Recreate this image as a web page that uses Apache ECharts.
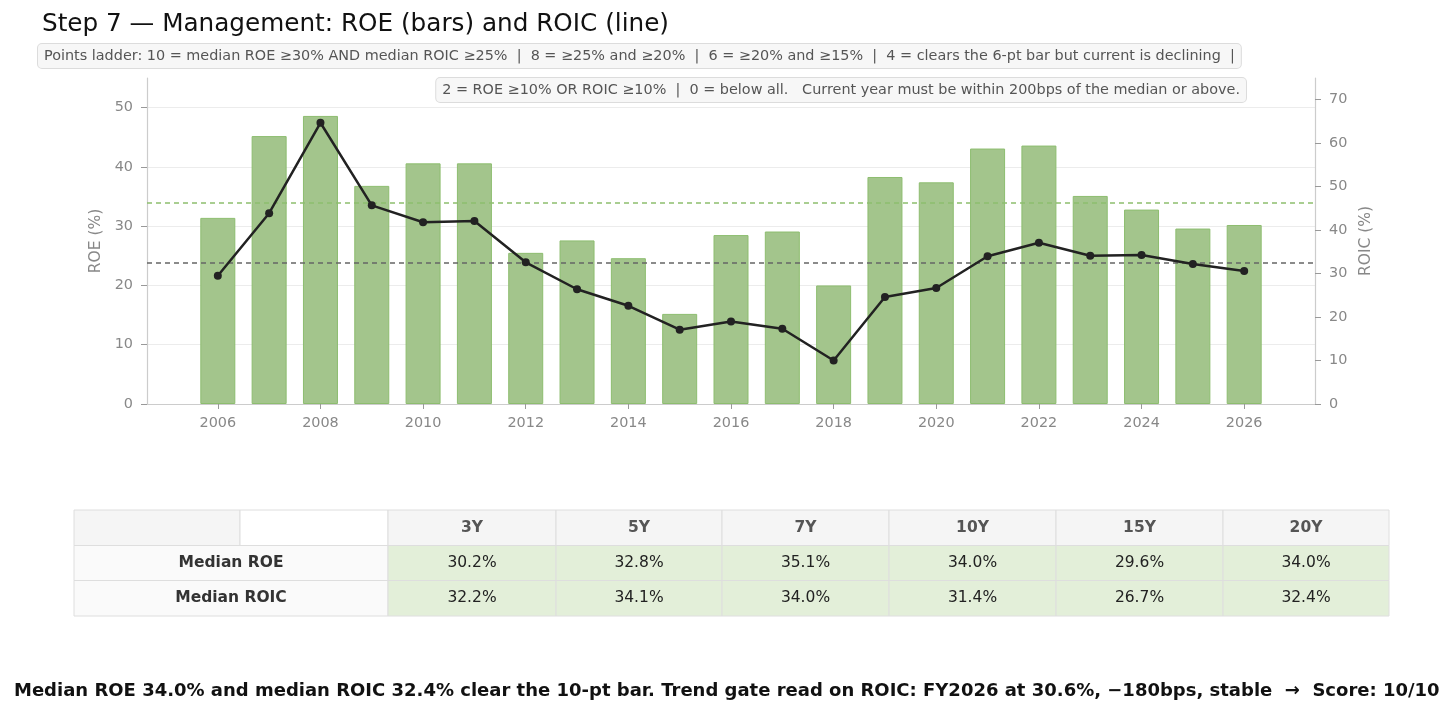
<!DOCTYPE html>
<html>
<head>
<meta charset="utf-8">
<script src="https://cdn.jsdelivr.net/npm/echarts@6/dist/echarts.min.js"></script>
<style>
  html, body { margin: 0; padding: 0; background: #fff; }
  #chart { width: 1456px; height: 716px; }
</style>
</head>
<body>
<div id="chart"></div>
<script>
// fiscal years
const years = [2006, 2007, 2008, 2009, 2010, 2011, 2012, 2013, 2014, 2015, 2016,
  2017, 2018, 2019, 2020, 2021, 2022, 2023, 2024, 2025, 2026];
// ROE % (bars, left axis)
const roe = [31.4, 45.2, 48.6, 36.8, 40.6, 40.6, 25.5, 27.6, 24.6, 15.2, 28.5,
  29.1, 20.0, 38.3, 37.4, 43.1, 43.6, 35.1, 32.8, 29.6, 30.2];
// ROIC % (line, right axis)
const roic = [29.5, 43.9, 64.7, 45.7, 41.8, 42.1, 32.6, 26.4, 22.6, 17.1, 19.0,
  17.3, 10.0, 24.6, 26.7, 34.0, 37.1, 34.1, 34.3, 32.2, 30.6];
const yearTicks = [2006, 2008, 2010, 2012, 2014, 2016, 2018, 2020, 2022, 2024, 2026];

// median table
const windows = ['3Y', '5Y', '7Y', '10Y', '15Y', '20Y'];
const medRoe = [30.2, 32.8, 35.1, 34.0, 29.6, 34.0];
const medRoic = [32.2, 34.1, 34.0, 31.4, 26.7, 32.4];

const FONT = '"DejaVu Sans", "Noto Sans", sans-serif';
const chart = echarts.init(document.getElementById('chart'));

// table built as graphic elements
const tbl = [];
const colEdges = [74, 388, 556, 722, 889, 1056, 1223, 1389];
const rowEdges = [510, 545.5, 580.5, 616];
function cell(x0, x1, y0, y1, fill, text, weight, color) {
  tbl.push({
    type: 'rect', shape: { x: x0, y: y0, width: x1 - x0, height: y1 - y0 },
    style: { fill: fill, stroke: '#dedede', lineWidth: 1 }
  });
  if (text !== '') {
    tbl.push({
      type: 'text', x: (x0 + x1) / 2, y: (y0 + y1) / 2,
      style: { text: text, fill: color, font: weight + ' 15.5px ' + FONT,
        align: 'center', verticalAlign: 'middle' }
    });
  }
}
// header row (first cell is split like the original)
cell(74, 240, rowEdges[0], rowEdges[1], '#f5f5f5', '', 'normal', '#555');
cell(240, 388, rowEdges[0], rowEdges[1], '#ffffff', '', 'normal', '#555');
windows.forEach((w, i) => cell(colEdges[i + 1], colEdges[i + 2], rowEdges[0], rowEdges[1], '#f5f5f5', w, 'bold', '#555'));
[['Median ROE', medRoe], ['Median ROIC', medRoic]].forEach((r, j) => {
  cell(colEdges[0], colEdges[1], rowEdges[j + 1], rowEdges[j + 2], '#fafafa', r[0], 'bold', '#333');
  r[1].forEach((v, i) => cell(colEdges[i + 1], colEdges[i + 2], rowEdges[j + 1], rowEdges[j + 2], '#e3efd9', v.toFixed(1) + '%', 'normal', '#222'));
});

const boxStyle = {
  fill: '#555', font: '14.4px ' + FONT, backgroundColor: '#f7f7f7',
  borderColor: '#dcdcdc', borderWidth: 1, borderRadius: 4, padding: [5, 6, 5, 6]
};

const option = {
  animation: false,
  backgroundColor: '#fff',
  grid: { left: 147, right: 141, top: 78, bottom: 312 },
  xAxis: {
    type: 'value', min: 2004.62, max: 2027.38,
    axisLine: { lineStyle: { color: '#cccccc', width: 1.2 } },
    axisTick: { show: true, customValues: yearTicks, length: 5, lineStyle: { color: '#999' } },
    axisLabel: { customValues: yearTicks, formatter: v => String(v), color: '#888',
      fontSize: 14.4, fontFamily: FONT, margin: 12 },
    splitLine: { show: false }
  },
  yAxis: [
    {
      type: 'value', min: 0, max: 55, interval: 10, position: 'left',
      name: 'ROE (%)', nameLocation: 'middle', nameGap: 42, nameRotate: 90,
      nameTextStyle: { color: '#888', fontSize: 15.5, fontFamily: FONT },
      axisLine: { show: true, lineStyle: { color: '#cccccc', width: 1.2 } },
      axisTick: { show: true, length: 6, lineStyle: { color: '#999' } },
      axisLabel: { color: '#888', fontSize: 14.4, fontFamily: FONT, showMaxLabel: false, margin: 14 },
      splitLine: { show: true, showMaxLine: false, lineStyle: { color: '#ececec', width: 1 } }
    },
    {
      type: 'value', min: 0, max: 75, interval: 10, position: 'right',
      name: 'ROIC (%)', nameLocation: 'middle', nameGap: 41, nameRotate: 90,
      nameTextStyle: { color: '#888', fontSize: 15.5, fontFamily: FONT },
      axisLine: { show: true, lineStyle: { color: '#cccccc', width: 1.2 } },
      axisTick: { show: true, length: 6, lineStyle: { color: '#999' } },
      axisLabel: { color: '#888', fontSize: 14.4, fontFamily: FONT, showMaxLabel: false, margin: 14 },
      splitLine: { show: false }
    }
  ],
  series: [
    {
      type: 'bar', yAxisIndex: 0, barWidth: 35,
      data: years.map((y, i) => [y, roe[i]]),
      itemStyle: { color: '#a3c58c', borderColor: '#8dbd6f', borderWidth: 1 },
      markLine: {
        silent: true, symbol: 'none', label: { show: false },
        lineStyle: { color: '#8dbf6e', type: [5, 4], width: 1.5 },
        data: [{ yAxis: medRoe[5] }]
      },
      z: 2
    },
    {
      type: 'line', yAxisIndex: 1,
      data: years.map((y, i) => [y, roic[i]]),
      lineStyle: { color: '#222', width: 2.5 },
      itemStyle: { color: '#222' },
      symbol: 'circle', symbolSize: 8,
      markLine: {
        silent: true, symbol: 'none', label: { show: false },
        lineStyle: { color: '#666', type: [5, 4], width: 1.5 },
        data: [{ yAxis: medRoic[5] }]
      },
      z: 5
    }
  ],
  graphic: [
    {
      type: 'text', left: 42, top: 12,
      style: { text: 'Step 7 \u2014 Management: ROE (bars) and ROIC (line)', fill: '#111', font: '24.7px ' + FONT }
    },
    {
      type: 'text', left: 37, top: 43,
      style: Object.assign({}, boxStyle, {
        text: 'Points ladder: 10 = median ROE \u226530% AND median ROIC \u226525%  |  8 = \u226525% and \u226520%  |  6 = \u226520% and \u226515%  |  4 = clears the 6-pt bar but current is declining  |'
      })
    },
    {
      type: 'text', right: 209, top: 77,
      style: Object.assign({}, boxStyle, {
        text: '2 = ROE \u226510% OR ROIC \u226510%  |  0 = below all.   Current year must be within 200bps of the median or above.'
      })
    },
    { type: 'group', children: tbl },
    {
      type: 'text', left: 14, top: 682,
      style: {
        text: 'Median ROE 34.0% and median ROIC 32.4% clear the 10-pt bar. Trend gate read on ROIC: FY2026 at 30.6%, \u2212180bps, stable  \u2192  Score: 10/10',
        fill: '#111', font: 'bold 18px ' + FONT
      }
    }
  ]
};
chart.setOption(option);
</script>
</body>
</html>
